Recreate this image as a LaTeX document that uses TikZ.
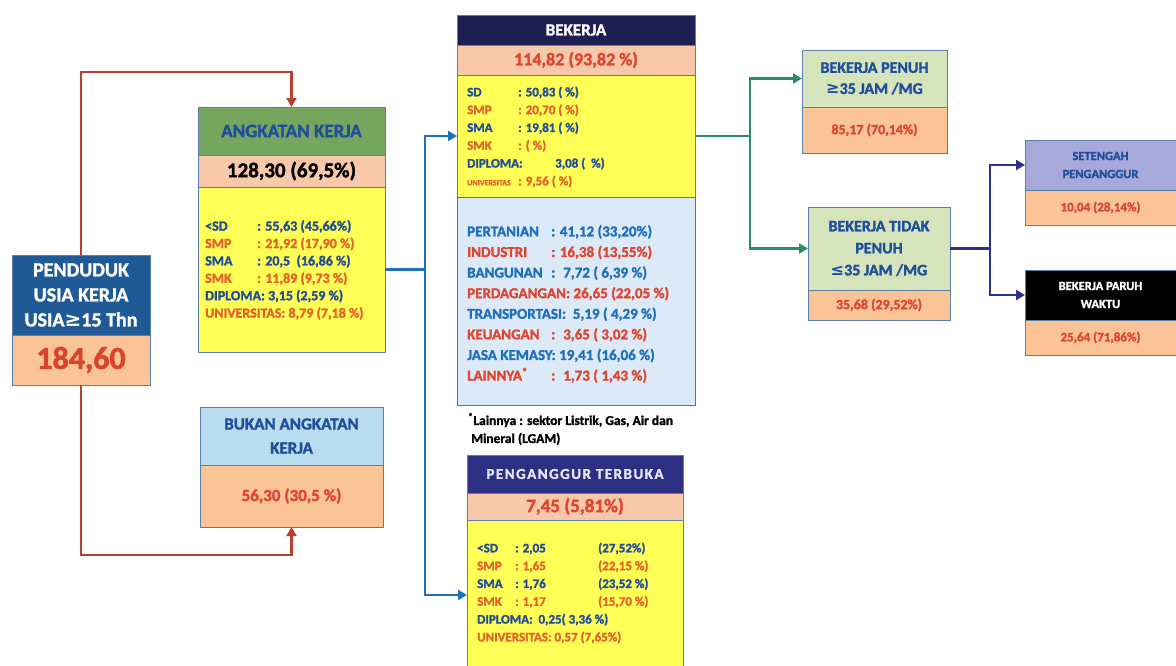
\documentclass[tikz,border=0pt]{standalone}
\usepackage{fontspec}
\setmainfont{Carlito}[BoldFeatures={FakeBold=1.6}]
\newfontfamily\symf{DejaVu Sans}
\usetikzlibrary{arrows.meta,calc}
\definecolor{tblue}{HTML}{1F4E9A}
\definecolor{tred}{HTML}{E0452F}
\definecolor{torg}{HTML}{E8602A}
\definecolor{vred}{HTML}{D9452B}
\definecolor{pendblue}{HTML}{1F5A96}
\definecolor{peach}{HTML}{FAC497}
\definecolor{pinkv}{HTML}{F7C9AA}
\definecolor{ylw}{HTML}{FFFF55}
\definecolor{akgreen}{HTML}{76A55E}
\definecolor{ltblue}{HTML}{BADCF0}
\definecolor{navyh}{HTML}{1B1F52}
\definecolor{secblue}{HTML}{DCEAF8}
\definecolor{ptnavy}{HTML}{2C2F82}
\definecolor{lgreen}{HTML}{D6E4BC}
\definecolor{lav}{HTML}{A7A9DA}
\definecolor{bord}{HTML}{5B7FA6}
\definecolor{secbord}{HTML}{3C78C8}
\definecolor{lred}{HTML}{B5402F}
\definecolor{lblue}{HTML}{1F6FC0}
\definecolor{lgrn}{HTML}{2E8B6A}
\definecolor{lnavy}{HTML}{2E3192}
\definecolor{lavtxt}{HTML}{E6E6FA}
\newcommand{\fz}[2]{\fontsize{#1}{#2}\selectfont\bfseries}
\newcommand{\lb}[2]{\makebox[#1][l]{#2}}
\tikzset{
  part/.style={draw=bord, line width=0.9pt, anchor=north west, inner sep=0pt, outer sep=0pt, align=center},
  lst/.style={anchor=west, inner sep=0pt, align=left},
  conn/.style={line width=2.8pt},
  arr/.style={-{Triangle[length=9pt,width=10pt]}},
}
\begin{document}
\begin{tikzpicture}[x=1pt,y=-1pt]
\useasboundingbox[fill=white] (0,0) rectangle (1176,665);

% PENDUDUK
\node[part, fill=pendblue, minimum width=138pt, minimum height=80pt, text=white, font=\fz{20}{25}] (pendH) at (12,255) {PENDUDUK\\USIA KERJA\\USIA{\symf\bfseries ≥}15 Thn};
\node[part, fill=peach, minimum width=138pt, minimum height=50pt, text=vred, font=\fz{32}{36}] (pendV) at (12,335) {184,60};

% ANGKATAN KERJA
\node[part, fill=akgreen, minimum width=187pt, minimum height=48pt, text=tblue, font=\fz{19}{24}] (akH) at (198,107) {ANGKATAN KERJA};
\node[part, fill=pinkv, minimum width=187pt, minimum height=32pt, text=black, font=\fz{21}{24}] (akV) at (198,155) {128,30 (69,5\%)};
\node[part, fill=ylw, minimum width=187pt, minimum height=165pt] (akL) at (198,187) {};
\node[lst, font=\fz{14}{17.4}] (akT) at (205,270) {%
\textcolor{tblue}{\lb{52pt}{<SD}: 55,63 (45,66\%)}\\
\textcolor{torg}{\lb{52pt}{SMP}: 21,92 (17,90 \%)}\\
\textcolor{tblue}{\lb{52pt}{SMA}: 20,5 \ (16,86 \%)}\\
\textcolor{torg}{\lb{52pt}{SMK}: 11,89 (9,73 \%)}\\
\textcolor{tblue}{DIPLOMA: 3,15 (2,59 \%)}\\
\textcolor{torg}{UNIVERSITAS: 8,79 (7,18 \%)}};

% BUKAN ANGKATAN KERJA
\node[part, fill=ltblue, minimum width=183pt, minimum height=58pt, text=tblue, font=\fz{17}{24}] (bkH) at (200,407) {BUKAN ANGKATAN\\KERJA};
\node[part, fill=peach, minimum width=183pt, minimum height=62pt, text=tred, font=\fz{17}{22}] (bkV) at (200,465) {56,30 (30,5 \%)};

% BEKERJA
\node[part, fill=navyh, minimum width=238pt, minimum height=30pt, text=white, font=\fz{17}{20}] (bjH) at (457,15) {BEKERJA};
\node[part, fill=pinkv, minimum width=238pt, minimum height=30pt, text=tred, font=\fz{18}{20}] (bjV) at (457,45) {114,82 (93,82 \%)};
\node[part, fill=ylw, minimum width=238pt, minimum height=122pt] (bjY) at (457,75) {};
\node[part, draw=secbord, fill=secblue, minimum width=238pt, minimum height=208pt] (bjS) at (457,197) {};
\node[lst, font=\fz{13}{17.8}] (bjT) at (467,137) {%
\textcolor{tblue}{\lb{51pt}{SD}: 50,83 ( \%)}\\
\textcolor{torg}{\lb{51pt}{SMP}: 20,70 ( \%)}\\
\textcolor{tblue}{\lb{51pt}{SMA}: 19,81 ( \%)}\\
\textcolor{torg}{\lb{51pt}{SMK}: ( \%)}\\
\textcolor{tblue}{\lb{88pt}{DIPLOMA:}3,08 ( \ \%)}\\
\textcolor{torg}{\lb{51pt}{\fontsize{8}{10}\selectfont UNIVERSITAS}: 9,56 ( \%)}};
\node[lst, font=\fz{15}{20.6}] (bjU) at (467,304) {%
\textcolor{lblue}{\lb{84pt}{PERTANIAN}: 41,12 (33,20\%)}\\
\textcolor{tred}{\lb{84pt}{INDUSTRI}: 16,38 (13,55\%)}\\
\textcolor{lblue}{\lb{84pt}{BANGUNAN}: \ 7,72 ( 6,39 \%)}\\
\textcolor{tred}{PERDAGANGAN: 26,65 (22,05 \%)}\\
\textcolor{lblue}{TRANSPORTASI: \ 5,19 ( 4,29 \%)}\\
\textcolor{tred}{\lb{84pt}{KEUANGAN}: \ 3,65 ( 3,02 \%)}\\
\textcolor{lblue}{JASA KEMASY: 19,41 (16,06 \%)}\\
\textcolor{tred}{\lb{84pt}{LAINNYA\textsuperscript{*}}: \ 1,73 ( 1,43 \%)}};
\node[lst, font=\fz{13.5}{18}, text=black] (fn) at (468,429) {\textsuperscript{*}Lainnya : sektor Listrik, Gas, Air dan\\ \ Mineral (LGAM)};

% PENGANGGUR TERBUKA
\node[part, fill=ptnavy, minimum width=216pt, minimum height=38pt, text=lavtxt, font=\fz{15}{18}\addfontfeatures{LetterSpace=10}] (ptH) at (467,455) {PENGANGGUR TERBUKA};
\node[part, fill=pinkv, minimum width=216pt, minimum height=27pt, text=tred, font=\fz{19}{22}] (ptV) at (467,493) {7,45 (5,81\%)};
\node[part, fill=ylw, minimum width=216pt, minimum height=150pt] (ptY) at (467,520) {};
\node[lst, font=\fz{13}{17.8}] (ptT) at (477,593) {%
\textcolor{tblue}{\lb{38pt}{<SD}\lb{83pt}{: 2,05}(27,52\%)}\\
\textcolor{torg}{\lb{38pt}{SMP}\lb{83pt}{: 1,65}(22,15 \%)}\\
\textcolor{tblue}{\lb{38pt}{SMA}\lb{83pt}{: 1,76}(23,52 \%)}\\
\textcolor{torg}{\lb{38pt}{SMK}\lb{83pt}{: 1,17}(15,70 \%)}\\
\textcolor{tblue}{DIPLOMA: \ 0,25( 3,36 \%)}\\
\textcolor{torg}{UNIVERSITAS: 0,57 (7,65\%)}};

% BEKERJA PENUH
\node[part, fill=lgreen, minimum width=145pt, minimum height=57pt, text=tblue, font=\fz{16}{21}] (pnH) at (802,50) {BEKERJA PENUH\\{\symf\bfseries ≥}35 JAM /MG};
\node[part, fill=peach, minimum width=145pt, minimum height=46pt, text=tred, font=\fz{14}{18}] (pnV) at (802,107) {85,17 (70,14\%)};

% BEKERJA TIDAK PENUH
\node[part, fill=lgreen, minimum width=142pt, minimum height=83pt, text=tblue, font=\fz{16}{22}] (tdH) at (808,207) {BEKERJA TIDAK\\PENUH\\{\symf\bfseries ≤}35 JAM /MG};
\node[part, fill=peach, minimum width=142pt, minimum height=30pt, text=tred, font=\fz{14}{18}] (tdV) at (808,290) {35,68 (29,52\%)};

% SETENGAH PENGANGGUR
\node[part, fill=lav, minimum width=151pt, minimum height=50pt, text=tblue, font=\fz{12.5}{18}] (stH) at (1025,140) {SETENGAH\\PENGANGGUR};
\node[part, fill=peach, minimum width=151pt, minimum height=35pt, text=tred, font=\fz{13}{16}] (stV) at (1025,190) {10,04 (28,14\%)};

% BEKERJA PARUH WAKTU
\node[part, fill=black, minimum width=151pt, minimum height=50pt, text=white, font=\fz{12.5}{18}] (prH) at (1025,270) {BEKERJA PARUH\\WAKTU};
\node[part, fill=peach, minimum width=151pt, minimum height=35pt, text=tred, font=\fz{13}{16}] (prV) at (1025,320) {25,64 (71,86\%)};

% connectors
\draw[conn, draw=lred, arr] (pendH.north) |- ($(akH.north)+(0,-35)$) -- (akH.north);
\draw[conn, draw=lred, arr] (pendV.south) |- ($(bkV.south)+(0,28)$) -- (bkV.south);

\coordinate (bs) at ($(akL.east)+(40,0)$);
\draw[conn, draw=lblue] (akL.east) -- (bs);
\draw[conn, draw=lblue, arr] (bs) |- (bjY.west);
\draw[conn, draw=lblue, arr] (bs) |- (ptY.west);

\coordinate (gs) at ($(bjY.east)+(55,0)$);
\draw[conn, draw=lgrn] (bjY.east) -- (gs);
\draw[conn, draw=lgrn, arr] (gs) |- (pnH.west);
\draw[conn, draw=lgrn, arr] (gs) |- (tdH.west);

\coordinate (ns) at ($(tdH.east)+(40,0)$);
\draw[conn, draw=lnavy] (tdH.east) -- (ns);
\draw[conn, draw=lnavy, arr] (ns) |- (stH.west);
\draw[conn, draw=lnavy, arr] (ns) |- (prH.west);
\end{tikzpicture}
\end{document}
